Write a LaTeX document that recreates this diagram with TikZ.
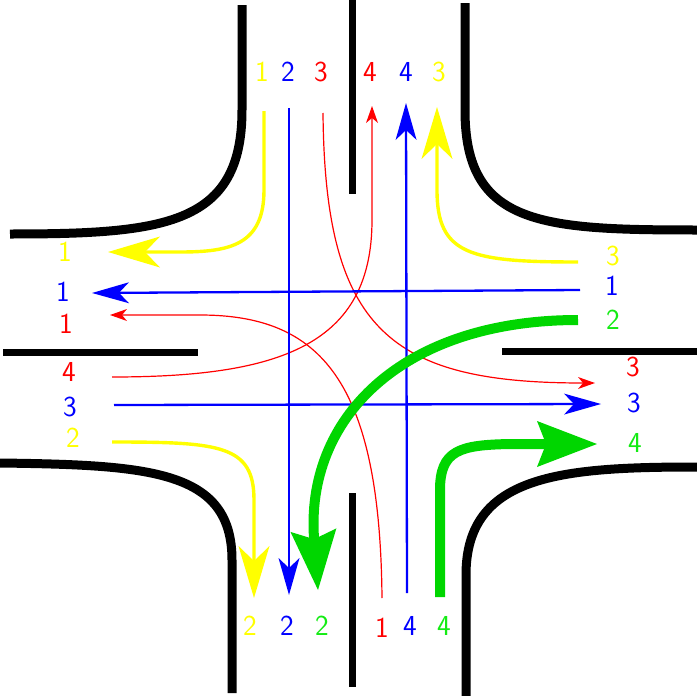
\documentclass[tikz,border=0pt]{standalone}
\usetikzlibrary{arrows.meta}
\definecolor{ylw}{RGB}{255,255,0}
\definecolor{blu}{RGB}{0,0,255}
\definecolor{rd}{RGB}{255,0,0}
\definecolor{grn}{RGB}{0,214,0}
\definecolor{grnl}{RGB}{20,235,20}
\begin{document}
\begin{tikzpicture}[x=1pt,y=-1pt,
  curb/.style={line width=9pt},
  divider/.style={line width=7pt},
  yarrow/.style={draw=ylw,line width=3.4pt,-{Stealth[length=52pt,width=31pt,inset=15pt,line width=0pt]}},
  barrow/.style={draw=blu,line width=2.3pt,-{Stealth[length=37pt,width=21pt,inset=10pt,line width=0pt]}},
  rarrow/.style={draw=rd,line width=1.2pt,-{Stealth[length=17pt,width=12pt,inset=5pt,line width=0pt]}},
  garrow/.style={draw=grn,line width=10pt,-{Stealth[length=60pt,width=46pt,inset=9pt,line width=0pt]}},
  lbl/.style={font=\sffamily\fontsize{29}{29}\selectfont,inner sep=0pt}
]
\useasboundingbox (0,0) rectangle (697,696);
% curbs
\draw[curb] (242,5) -- (242,110) .. controls (242,225) and (165,234) .. (10,234);
\draw[curb] (465,3) -- (465,110) .. controls (465,225) and (540,230) .. (697,230);
\draw[curb] (0,463) .. controls (150,465) and (232,470) .. (232,560) -- (232,693);
\draw[curb] (697,467) .. controls (560,467) and (466,475) .. (466,575) -- (466,696);
% dividers
\draw[divider] (352,0) -- (352,194);
\draw[divider] (352,493) -- (352,687);
\draw[divider] (3,352) -- (198,352);
\draw[divider] (502,351) -- (697,351);

% labels top
\node[lbl,text=ylw] (t1) at (262,72) {1};
\node[lbl,text=blu] (t2) at (288,72) {2};
\node[lbl,text=rd]  (t3) at (321,72) {3};
\node[lbl,text=rd]  (t4) at (370,72) {4};
\node[lbl,text=blu] (t5) at (406,72) {4};
\node[lbl,text=ylw] (t6) at (439,72) {3};
% labels left
\node[lbl,text=ylw] (l1) at (65,252) {1};
\node[lbl,text=blu] (l2) at (63,292) {1};
\node[lbl,text=rd]  (l3) at (66,324) {1};
\node[lbl,text=rd]  (l4) at (69,372) {4};
\node[lbl,text=blu] (l5) at (70,407) {3};
\node[lbl,text=ylw] (l6) at (73,438) {2};
% labels right
\node[lbl,text=ylw]  (r1) at (613,256) {3};
\node[lbl,text=blu]  (r2) at (612,286) {1};
\node[lbl,text=grnl] (r3) at (613,320) {2};
\node[lbl,text=rd]   (r4) at (633,367) {3};
\node[lbl,text=blu]  (r5) at (634,403) {3};
\node[lbl,text=grnl] (r6) at (635,443) {4};
% labels bottom
\node[lbl,text=ylw]  (b1) at (250,626) {2};
\node[lbl,text=blu]  (b2) at (287,626) {2};
\node[lbl,text=grnl] (b3) at (322,626) {2};
\node[lbl,text=rd]   (b4) at (382,628) {1};
\node[lbl,text=blu]  (b5) at (410,626) {4};
\node[lbl,text=grnl] (b6) at (444,626) {4};

% arrow end points
\coordinate (yTs) at (264,111);  \coordinate (yTe) at (108,252);
\coordinate (yLs) at (112,442);  \coordinate (yLe) at (254,598);
\coordinate (yRs) at (578,262);  \coordinate (yRe) at (437,107);
\coordinate (bTs) at (289,108);  \coordinate (bTe) at (289,595);
\coordinate (bBs) at (407,593);  \coordinate (bBe) at (406,103);
\coordinate (bRs) at (580,290);  \coordinate (bRe) at (92,293);
\coordinate (bLs) at (114,405);  \coordinate (bLe) at (601,404);
\coordinate (rTs) at (323,113);  \coordinate (rTe) at (595,383);
\coordinate (rLs) at (112,377);  \coordinate (rLe) at (372,106);
\coordinate (rBs) at (382,598);  \coordinate (rBe) at (110,315);
\coordinate (gRs) at (578,320);  \coordinate (gRe) at (318,590);
\coordinate (gBs) at (440,597);  \coordinate (gBe) at (597,444);

% red
\draw[rarrow] (rTs) .. controls (325,330) and (390,383) .. (rTe);
\draw[rarrow] (rLs) .. controls (280,377) and (372,345) .. (372,220) -- (rLe);
\draw[rarrow] (rBs) .. controls (380,380) and (320,315) .. (200,315) -- (rBe);
% blue
\draw[barrow] (bTs) -- (bTe);
\draw[barrow] (bBs) -- (bBe);
\draw[barrow] (bRs) -- (bRe);
\draw[barrow] (bLs) -- (bLe);
% yellow
\draw[yarrow] (yTs) -- (264,190) .. controls (264,245) and (230,252) .. (180,252) -- (yTe);
\draw[yarrow] (yLs) .. controls (220,442) and (254,445) .. (254,500) -- (yLe);
\draw[yarrow] (yRs) .. controls (470,262) and (437,255) .. (437,190) -- (yRe);
% green
\draw[garrow] (gRs) .. controls (400,320) and (305,420) .. (gRe);
\draw[garrow] (gBs) -- (440,490) .. controls (440,450) and (460,445) .. (510,444) -- (gBe);
\end{tikzpicture}
\end{document}
